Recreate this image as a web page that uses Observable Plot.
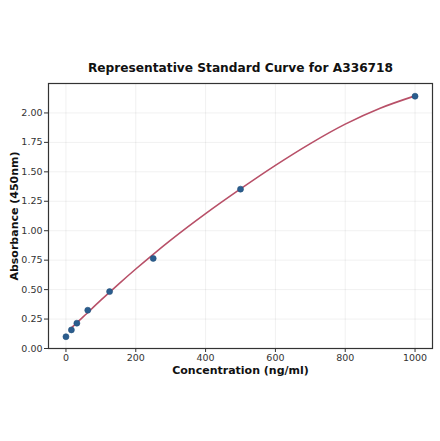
<!DOCTYPE html>
<html>
<head>
<meta charset="utf-8">
<script src="https://cdn.jsdelivr.net/npm/d3@7"></script>
<script src="https://cdn.jsdelivr.net/npm/@observablehq/plot@0.6"></script>
<style>
  body { margin: 0; background: #fff; }
  #chart svg { display: block; }
</style>
</head>
<body>
<div id="chart"></div>
<script>
// standards (ng/ml) and measured absorbance
const conc = [0, 15.6, 31.25, 62.5, 125, 250, 500, 1000];
const absorb = [0.10, 0.158, 0.215, 0.325, 0.483, 0.765, 1.353, 2.142];

// fitted curve
const fitConc = [15.6, 50, 100, 150, 200, 250, 300, 400, 500, 600, 700, 800, 900, 1000];
const fitAbs = [0.175, 0.27, 0.41, 0.545, 0.675, 0.80, 0.92, 1.145, 1.355, 1.555, 1.74, 1.905, 2.04, 2.145];

const xTicks = [0, 200, 400, 600, 800, 1000];
const yTicks = [0, 0.25, 0.5, 0.75, 1, 1.25, 1.5, 1.75, 2];

const points = conc.map((c, i) => ({c, a: absorb[i]}));
const fit = fitConc.map((c, i) => ({c, a: fitAbs[i]}));

const font = "DejaVu Sans, sans-serif";

let chart = Plot.plot({
  width: 440,
  height: 441,
  marginLeft: 48,
  marginRight: 8,
  marginTop: 83,
  marginBottom: 93,
  style: {fontFamily: font, fontSize: "9.5px", color: "#333", background: "#fff"},
  x: {domain: [-50, 1050], label: null},
  y: {domain: [0, 2.25], label: null},
  marks: [
    Plot.gridX(xTicks, {stroke: "#000", strokeOpacity: 0.06}),
    Plot.gridY(yTicks, {stroke: "#000", strokeOpacity: 0.06}),
    Plot.axisX(xTicks, {tickSize: 4, tickPadding: 2, stroke: "#333", fill: "#333", fontSize: 9.5, tickFormat: d => String(d)}),
    Plot.axisY(yTicks, {tickSize: 4, tickPadding: 2, stroke: "#333", fill: "#333", fontSize: 9.5, tickFormat: d3.format(".2f")}),
    Plot.line(fit, {x: "c", y: "a", stroke: "#b85068", strokeWidth: 1.6, curve: "monotone-x"}),
    Plot.dot(points, {x: "c", y: "a", r: 3, fill: "#2b5d8e", stroke: "#24507a", strokeWidth: 0.6}),
    Plot.frame({stroke: "#333", strokeWidth: 1.2}),
    Plot.text(["Representative Standard Curve for A336718"], {
      frameAnchor: "top", dy: -15, lineAnchor: "middle", fontSize: 12.2, fontWeight: "bold", fill: "#111"
    }),
    Plot.text(["Concentration (ng/ml)"], {
      frameAnchor: "bottom", dy: 22, lineAnchor: "middle", fontSize: 11, fontWeight: "bold", fill: "#111"
    }),
    Plot.text(["Absorbance (450nm)"], {
      frameAnchor: "left", dx: -34, rotate: -90, textAnchor: "middle", lineAnchor: "middle",
      fontSize: 11, fontWeight: "bold", fill: "#111"
    })
  ]
});

d3.select("#chart").append(() => chart);
</script>
</body>
</html>
